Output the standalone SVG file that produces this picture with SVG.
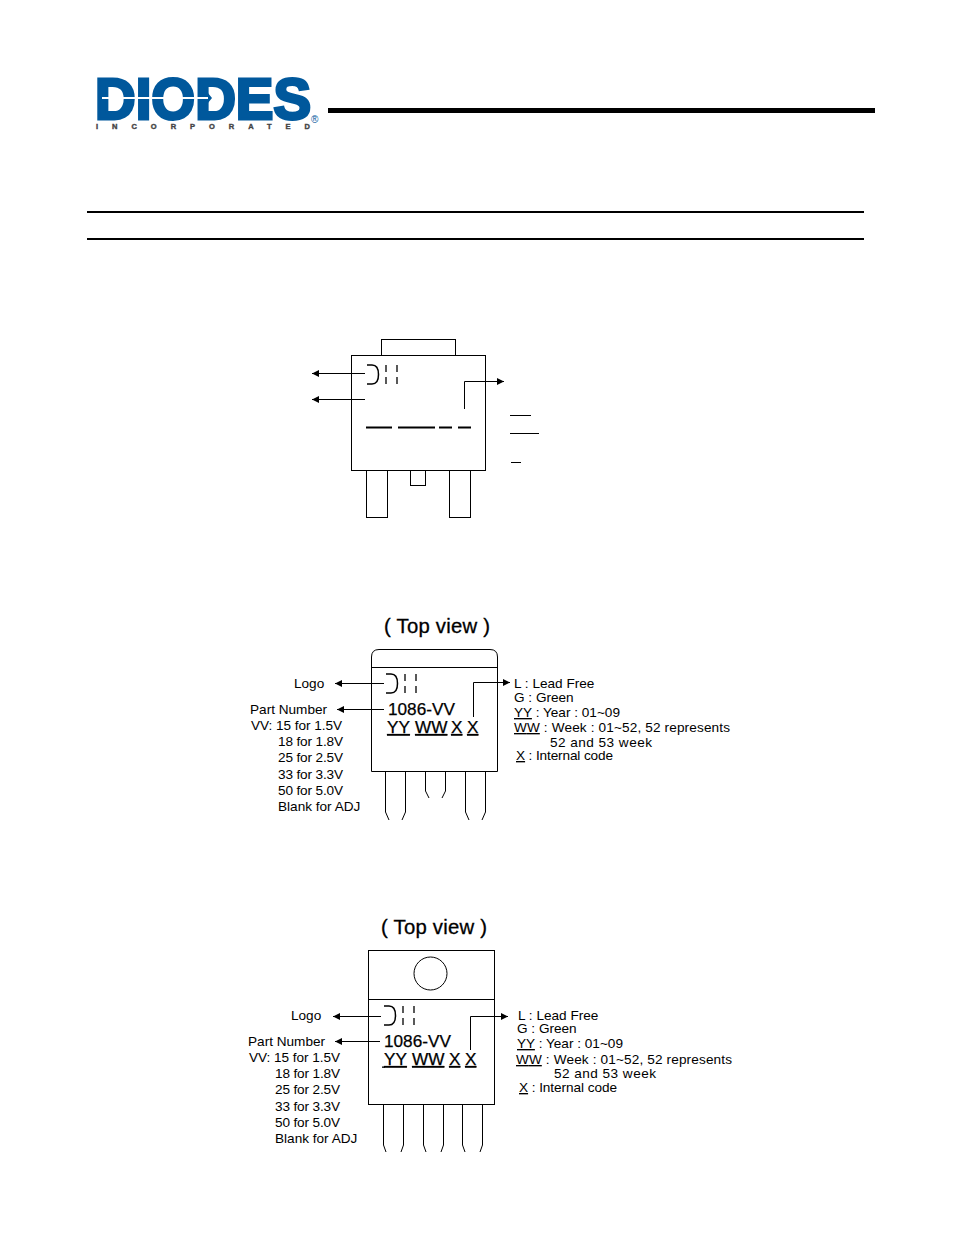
<svg xmlns="http://www.w3.org/2000/svg" width="954" height="1235" viewBox="0 0 954 1235">
<style>
text{font-family:"Liberation Sans",Arial,sans-serif;fill:#000}
.s{fill:none;stroke:#000;stroke-width:1}
.a{fill:none;stroke:#000;stroke-width:1;marker-end:url(#ah)}
.t{font-size:13.6px}
.h{font-size:20.3px;stroke:#000;stroke-width:.3}
.p{font-size:17.2px;stroke:#000;stroke-width:.25}
.u{text-decoration:underline}
</style>
<defs>
<marker id="ah" markerUnits="userSpaceOnUse" markerWidth="8" markerHeight="7" refX="7" refY="3.500" orient="auto"><path d="M0 0L7 3.500L0 7Z" fill="#000"/></marker>
<g id="mark"><path d="M0 0H5Q11.500 0 11.500 9.500Q11.500 19 5 19H0" fill="none" stroke="#000" stroke-width="1.500"/><path d="M19 0V19M30 0V19" fill="none" stroke="#000" stroke-width="1.300" stroke-dasharray="7 5"/></g>
</defs>
<rect width="954" height="1235" fill="#fff"/>
<g id="logo">
<text x="95" y="118.500" font-size="57" font-weight="700" textLength="216" lengthAdjust="spacingAndGlyphs" style="fill:#00589c;stroke:#00589c;stroke-width:3">DIODES</text>
<path d="M102 98H205" stroke="#fff" stroke-width="2" fill="none"/>
<path d="M199 82L212 98L199 114Z" fill="#00589c"/>
<path d="M199 98H208" stroke="#fff" stroke-width="2" fill="none"/>
<text x="96" y="129" font-size="7.500" font-weight="700" textLength="214" style="fill:#444;stroke:#444;stroke-width:.4">INCORPORATED</text>
<text x="311" y="123" font-size="10" style="fill:#00589c">®</text>
</g>
<g id="header-rules">
<rect x="328" y="108" width="547" height="5" fill="#000"/>
<rect x="87" y="211" width="777" height="2" fill="#000"/>
<rect x="87" y="238" width="777" height="2" fill="#000"/>
</g>
<g id="pkg1">
<rect class="s" x="381.500" y="339.500" width="74" height="16"/>
<rect class="s" x="351.500" y="355.500" width="134" height="115"/>
<rect class="s" x="366.500" y="470.500" width="21" height="47"/>
<rect class="s" x="410.500" y="470.500" width="15" height="15"/>
<rect class="s" x="449.500" y="470.500" width="21" height="47"/>
<use href="#mark" x="367" y="365"/>
<path d="M366 427.500H392M398 427.500H435M439 427.500H452M458 427.500H471" stroke="#000" stroke-width="2" fill="none"/>
<path class="s" d="M510 415.500H531M510 433.500H539M511 462.500H521"/>
</g>
<g id="pkg2">
<path class="s" d="M371.500 771.500V657Q371.500 649.500 379 649.500H490Q497.500 649.500 497.500 657V771.500ZM371.500 667.500H497.500"/>
<path class="s" d="M385.500 771.500V812L389 820M405.500 771.500V812L402 820M425.500 771.500V791L429 798M445.500 771.500V791L442 798M465.500 771.500V812L469 820M485.500 771.500V812L482 820"/>
<use href="#mark" x="386" y="674"/>
<text class="h" x="384" y="633" textLength="106">( Top view )</text>
<text class="t" x="294" y="688">Logo</text>
<text class="t" x="250" y="714">Part Number</text>
<text class="t" x="251" y="730" textLength="91">VV: 15 for 1.5V</text>
<text class="t" x="278" y="746" textLength="65">18 for 1.8V</text>
<text class="t" x="278" y="762" textLength="65">25 for 2.5V</text>
<text class="t" x="278" y="779" textLength="65">33 for 3.3V</text>
<text class="t" x="278" y="795" textLength="65">50 for 5.0V</text>
<text class="t" x="278" y="811">Blank for ADJ</text>
<text class="p" x="388" y="715">1086-VV</text>
<text class="p u" x="387" y="733">YY</text>
<text class="p u" x="415" y="733">WW</text>
<text class="p u" x="451" y="733">X</text>
<text class="p u" x="467" y="733">X</text>
<text class="t" x="514" y="688">L : Lead Free</text>
<text class="t" x="514" y="702">G : Green</text>
<text class="t" x="514" y="717"><tspan class="u">YY</tspan> : Year : 01~09</text>
<text class="t" x="514" y="732" textLength="216"><tspan class="u">WW</tspan> : Week : 01~52, 52 represents</text>
<text class="t" x="550" y="747" textLength="102">52 and 53 week</text>
<text class="t" x="516" y="760" textLength="97"><tspan class="u">X</tspan> : Internal code</text>
</g>
<g id="pkg3">
<rect class="s" x="368.500" y="950.500" width="126" height="154"/>
<path class="s" d="M368.500 999.500H494.500"/>
<circle class="s" cx="430.500" cy="973.500" r="16.500"/>
<path class="s" d="M383.500 1104.500V1145L386 1152M403.500 1104.500V1145L401 1152M423.500 1104.500V1145L426 1152M443.500 1104.500V1145L441 1152M462.500 1104.500V1145L465 1152M482.500 1104.500V1145L480 1152"/>
<use href="#mark" x="384" y="1006"/>
<text class="h" x="381" y="934" textLength="106">( Top view )</text>
<text class="t" x="291" y="1020">Logo</text>
<text class="t" x="248" y="1046">Part Number</text>
<text class="t" x="249" y="1062" textLength="91">VV: 15 for 1.5V</text>
<text class="t" x="275" y="1078" textLength="65">18 for 1.8V</text>
<text class="t" x="275" y="1094" textLength="65">25 for 2.5V</text>
<text class="t" x="275" y="1111" textLength="65">33 for 3.3V</text>
<text class="t" x="275" y="1127" textLength="65">50 for 5.0V</text>
<text class="t" x="275" y="1143">Blank for ADJ</text>
<text class="p" x="384" y="1047">1086-VV</text>
<rect x="382" y="1066.500" width="3" height="1.300" fill="#000"/>
<text class="p u" x="384" y="1065">YY</text>
<text class="p u" x="412" y="1065">WW</text>
<text class="p u" x="449" y="1065">X</text>
<text class="p u" x="465" y="1065">X</text>
<text class="t" x="518" y="1020">L : Lead Free</text>
<text class="t" x="517" y="1033">G : Green</text>
<text class="t" x="517" y="1048"><tspan class="u">YY</tspan> : Year : 01~09</text>
<text class="t" x="516" y="1064" textLength="216"><tspan class="u">WW</tspan> : Week : 01~52, 52 represents</text>
<text class="t" x="554" y="1078" textLength="102">52 and 53 week</text>
<text class="t" x="519" y="1092" textLength="98"><tspan class="u">X</tspan> : Internal code</text>
</g>
<g id="connectors">
<path class="a" d="M365 373.500H312"/>
<path class="a" d="M365 399.500H312"/>
<path class="a" d="M464.500 409V381.500H504"/>
<path class="a" d="M384 683.500H335"/>
<path class="a" d="M384 709.500H337"/>
<path class="a" d="M473.500 717V682.500H510"/>
<path class="a" d="M381 1016.500H333"/>
<path class="a" d="M380 1041.500H335"/>
<path class="a" d="M470.500 1050V1016.500H508"/>
</g>
</svg>
